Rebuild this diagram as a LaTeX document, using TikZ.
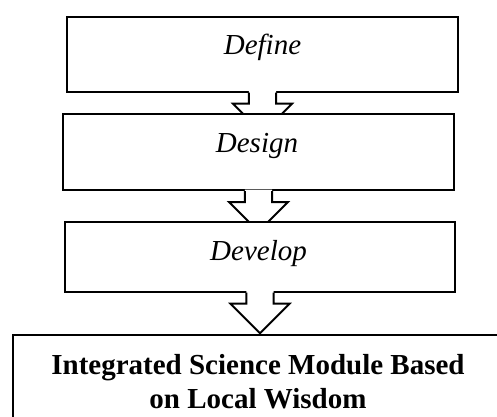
\documentclass[tikz,border=0pt]{standalone}
\usepackage{fontspec}
\setmainfont{Liberation Serif}
\usetikzlibrary{calc}
\tikzset{
  box/.style={draw=black, fill=white, line width=2pt, rectangle, inner sep=0pt},
  arrline/.style={draw=black, line width=2pt, miter limit=10},
  stagelbl/.style={font=\fontsize{29}{34}\selectfont\itshape, inner sep=0pt, anchor=base},
  finallbl/.style={font=\fontsize{29}{34}\selectfont\bfseries, inner sep=0pt, align=center, anchor=base},
}
\newcommand\blockarr[1]{%
  \fill[white] ($(#1.south)+(-13.7,-1.5)$) -- ++(0,12.5) -- ++(-15.8,0) -- ++(29.5,29.5) -- ++(29.5,-29.5) -- ++(-15.8,0) -- ++(0,-12.5) -- cycle;
  \draw[arrline] ($(#1.south)+(-13.7,0)$) -- ++(0,11) -- ++(-15.8,0) -- ++(29.5,29.5) -- ++(29.5,-29.5) -- ++(-15.8,0) -- ++(0,-11);
}
\begin{document}
\begin{tikzpicture}[x=1pt,y=-1pt]
\useasboundingbox (0,0) rectangle (497,416);
\clip (0,0) rectangle (497,416);
\fill[white] (0,0) rectangle (497,416);
% Define
\node[box, minimum width=390.4pt, minimum height=75pt] (define) at (262.5,54.2) {};
\node[stagelbl] (tdefine) at ([yshift=-38.5pt]define.north) {Define};
\blockarr{define}
% Design
\node[box, minimum width=391.6pt, minimum height=75.7pt] (design) at (258.5,152.15) {};
\node[stagelbl] (tdesign) at ([xshift=-1.5pt,yshift=-39pt]design.north) {Design};
\blockarr{design}
% Develop
\node[box, minimum width=390pt, minimum height=69.4pt] (develop) at (260,257) {};
\node[stagelbl] (tdevelop) at ([xshift=-1.5pt,yshift=-39.4pt]develop.north) {Develop};
\blockarr{develop}
% Final
\node[box, minimum width=490.6pt, minimum height=105pt] (final) at (258,387.5) {};
\node[finallbl] (tfinal) at ([yshift=-74pt]final.north) {Integrated Science Module Based\\on Local Wisdom};
\end{tikzpicture}
\end{document}
